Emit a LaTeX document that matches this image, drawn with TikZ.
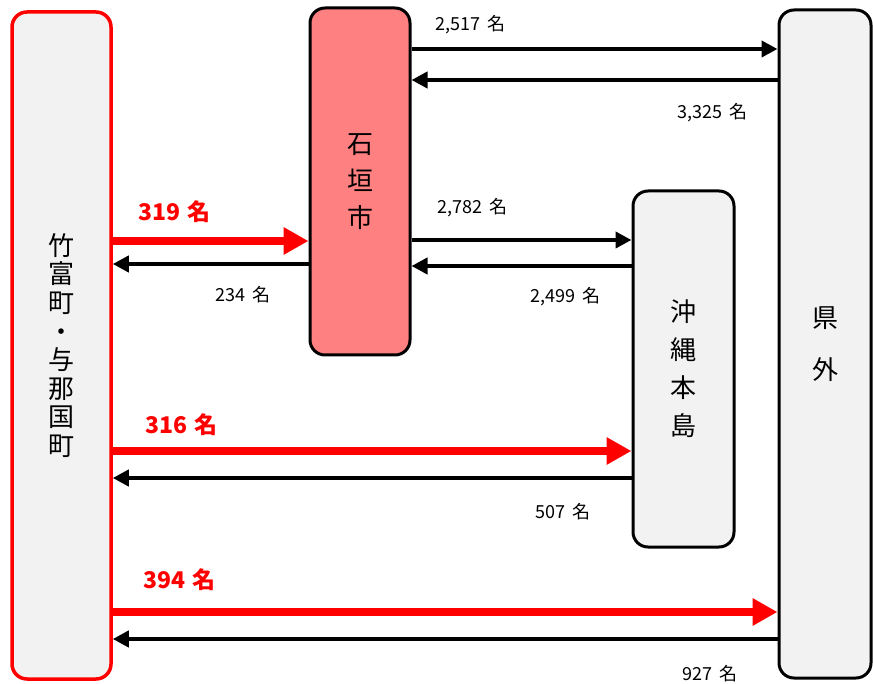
\documentclass[tikz,border=0pt]{standalone}
\usepackage{fontspec}
\setmainfont{Noto Sans CJK JP}
\usetikzlibrary{arrows.meta}
\definecolor{boxgray}{HTML}{F2F2F2}
\definecolor{salmon}{HTML}{FF8080}
\newcommand{\mei}{\hspace{7pt}名}
\tikzset{
  box/.style={draw=black, line width=3pt, fill=boxgray, rounded corners=15pt, inner sep=0pt, align=center},
  blk/.style={line width=4pt, draw=black, -{Triangle[length=16pt,width=16pt]}},
  redarr/.style={line width=7.5pt, draw=red, -{Triangle[length=25pt,width=26pt]}},
  num/.style={anchor=west, inner sep=0pt, font=\fontsize{18pt}{18pt}\selectfont},
  rednum/.style={anchor=west, inner sep=0pt, text=red, font=\fontsize{23pt}{23pt}\selectfont\bfseries}
}
\begin{document}
\begin{tikzpicture}[x=1pt,y=-1pt]
\useasboundingbox (0,0) rectangle (873,684);
% boxes
\node[box, draw=red, line width=3.5pt, minimum width=99pt, minimum height=667pt,
  font=\fontsize{26pt}{28.6pt}\selectfont] (tk) at (61.5,345.5) {竹\\富\\町\\・\\与\\那\\国\\町};
\node[box, fill=salmon, minimum width=100pt, minimum height=347pt,
  font=\fontsize{26pt}{37pt}\selectfont] (ish) at (360,181.5) {石\\垣\\市};
\node[box, minimum width=101pt, minimum height=356pt,
  font=\fontsize{26pt}{38pt}\selectfont] (oki) at (683.5,369) {沖\\縄\\本\\島};
\node[box, minimum width=92pt, minimum height=668pt,
  font=\fontsize{26pt}{52pt}\selectfont] (ken) at (825,344) {県\\外};
% Ishigaki <-> Kengai
\draw[blk] (ish.east |- 0,49) -- (ken.west |- 0,49);
\draw[blk] (ken.west |- 0,80) -- (ish.east |- 0,80);
\node[num] (l1) at (435,25) {2,517\mei};
\node[num] (l2) at (677,113) {3,325\mei};
% Taketomi <-> Ishigaki
\draw[redarr] (tk.east |- 0,241) -- (ish.west |- 0,241);
\draw[blk] (ish.west |- 0,264) -- (tk.east |- 0,264);
\node[rednum] (l3) at (138,212) {319\mei};
\node[num] (l4) at (215,295) {234\mei};
% Ishigaki <-> Okinawa
\draw[blk] (ish.east |- 0,240) -- (oki.west |- 0,240);
\draw[blk] (oki.west |- 0,266) -- (ish.east |- 0,266);
\node[num] (l5) at (437,208) {2,782\mei};
\node[num] (l6) at (530,297) {2,499\mei};
% Taketomi <-> Okinawa
\draw[redarr] (tk.east |- 0,451) -- (oki.west |- 0,451);
\draw[blk] (oki.west |- 0,478) -- (tk.east |- 0,478);
\node[rednum] (l7) at (145,425) {316\mei};
\node[num] (l8) at (535,512) {507\mei};
% Taketomi <-> Kengai
\draw[redarr] (tk.east |- 0,612) -- (ken.west |- 0,612);
\draw[blk] (ken.west |- 0,639) -- (tk.east |- 0,639);
\node[rednum] (l9) at (143,580) {394\mei};
\node[num] (l10) at (682,674) {927\mei};
\end{tikzpicture}
\end{document}
